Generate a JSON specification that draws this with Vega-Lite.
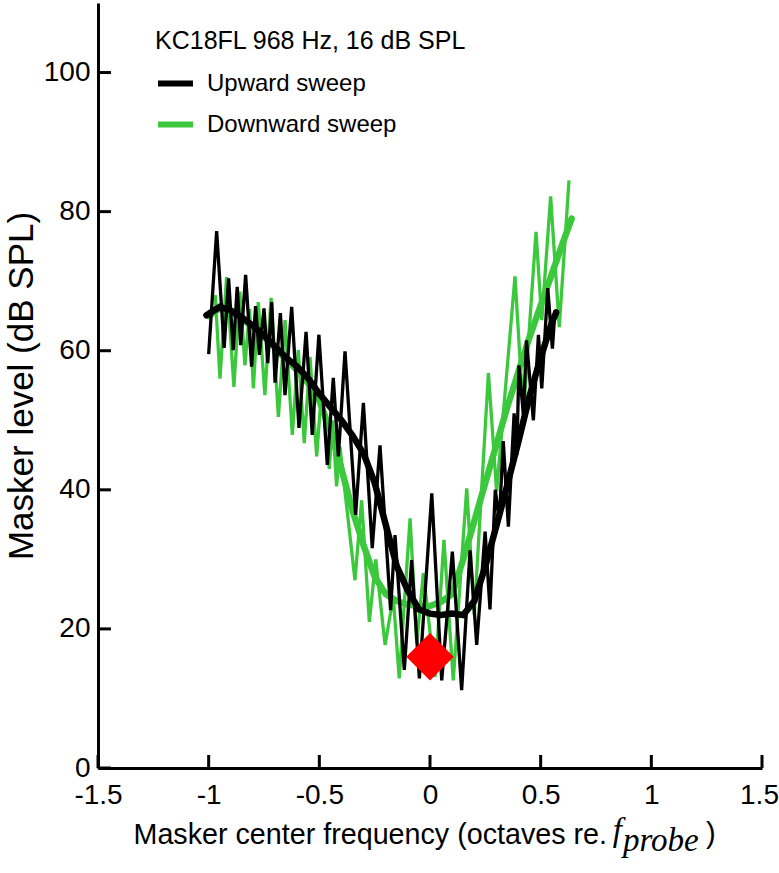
{
  "$schema": "https://vega.github.io/schema/vega-lite/v6.json",
  "width": 664,
  "height": 765,
  "autosize": {"type": "none"},
  "padding": {"left": 98, "top": 3, "right": 17, "bottom": 105},
  "background": "white",
  "config": {
    "view": {"stroke": null},
    "font": "Liberation Sans",
    "axis": {
      "grid": false,
      "domainColor": "black",
      "domainWidth": 3,
      "tickColor": "black",
      "tickWidth": 3,
      "labelFont": "Liberation Sans",
      "labelFontSize": 28,
      "labelColor": "black",
      "labelFlush": false,
      "labelOverlap": false,
      "titleFont": "Liberation Sans",
      "titleFontSize": 28,
      "titleFontWeight": "normal",
      "titleColor": "black"
    }
  },
  "datasets": {
    "up_raw": [
      {"x": -1.0, "y": 59.5, "sweep": "Upward sweep"},
      {"x": -0.964, "y": 77.2, "sweep": "Upward sweep"},
      {"x": -0.93, "y": 60.4, "sweep": "Upward sweep"},
      {"x": -0.91, "y": 70.4, "sweep": "Upward sweep"},
      {"x": -0.889, "y": 60.1, "sweep": "Upward sweep"},
      {"x": -0.871, "y": 69.2, "sweep": "Upward sweep"},
      {"x": -0.855, "y": 60.8, "sweep": "Upward sweep"},
      {"x": -0.833, "y": 70.9, "sweep": "Upward sweep"},
      {"x": -0.806, "y": 57.7, "sweep": "Upward sweep"},
      {"x": -0.788, "y": 66.4, "sweep": "Upward sweep"},
      {"x": -0.771, "y": 59.4, "sweep": "Upward sweep"},
      {"x": -0.75, "y": 66.1, "sweep": "Upward sweep"},
      {"x": -0.733, "y": 58.2, "sweep": "Upward sweep"},
      {"x": -0.715, "y": 67.0, "sweep": "Upward sweep"},
      {"x": -0.7, "y": 55.4, "sweep": "Upward sweep"},
      {"x": -0.676, "y": 65.4, "sweep": "Upward sweep"},
      {"x": -0.655, "y": 53.6, "sweep": "Upward sweep"},
      {"x": -0.625, "y": 66.3, "sweep": "Upward sweep"},
      {"x": -0.592, "y": 48.9, "sweep": "Upward sweep"},
      {"x": -0.56, "y": 62.7, "sweep": "Upward sweep"},
      {"x": -0.532, "y": 47.9, "sweep": "Upward sweep"},
      {"x": -0.502, "y": 62.3, "sweep": "Upward sweep"},
      {"x": -0.464, "y": 43.6, "sweep": "Upward sweep"},
      {"x": -0.437, "y": 56.1, "sweep": "Upward sweep"},
      {"x": -0.414, "y": 44.8, "sweep": "Upward sweep"},
      {"x": -0.384, "y": 59.9, "sweep": "Upward sweep"},
      {"x": -0.336, "y": 36.4, "sweep": "Upward sweep"},
      {"x": -0.301, "y": 52.5, "sweep": "Upward sweep"},
      {"x": -0.261, "y": 31.6, "sweep": "Upward sweep"},
      {"x": -0.226, "y": 46.4, "sweep": "Upward sweep"},
      {"x": -0.178, "y": 22.7, "sweep": "Upward sweep"},
      {"x": -0.158, "y": 33.5, "sweep": "Upward sweep"},
      {"x": -0.116, "y": 14.1, "sweep": "Upward sweep"},
      {"x": -0.083, "y": 29.9, "sweep": "Upward sweep"},
      {"x": -0.048, "y": 12.9, "sweep": "Upward sweep"},
      {"x": 0.008, "y": 39.5, "sweep": "Upward sweep"},
      {"x": 0.053, "y": 12.6, "sweep": "Upward sweep"},
      {"x": 0.101, "y": 31.1, "sweep": "Upward sweep"},
      {"x": 0.143, "y": 11.2, "sweep": "Upward sweep"},
      {"x": 0.181, "y": 31.3, "sweep": "Upward sweep"},
      {"x": 0.211, "y": 17.7, "sweep": "Upward sweep"},
      {"x": 0.249, "y": 34.0, "sweep": "Upward sweep"},
      {"x": 0.271, "y": 22.8, "sweep": "Upward sweep"},
      {"x": 0.295, "y": 40.0, "sweep": "Upward sweep"},
      {"x": 0.313, "y": 35.5, "sweep": "Upward sweep"},
      {"x": 0.331, "y": 47.0, "sweep": "Upward sweep"},
      {"x": 0.354, "y": 34.7, "sweep": "Upward sweep"},
      {"x": 0.38, "y": 51.0, "sweep": "Upward sweep"},
      {"x": 0.392, "y": 45.0, "sweep": "Upward sweep"},
      {"x": 0.402, "y": 57.9, "sweep": "Upward sweep"},
      {"x": 0.422, "y": 50.8, "sweep": "Upward sweep"},
      {"x": 0.436, "y": 61.5, "sweep": "Upward sweep"},
      {"x": 0.467, "y": 50.0, "sweep": "Upward sweep"},
      {"x": 0.49, "y": 62.3, "sweep": "Upward sweep"},
      {"x": 0.505, "y": 54.6, "sweep": "Upward sweep"},
      {"x": 0.532, "y": 69.0, "sweep": "Upward sweep"},
      {"x": 0.553, "y": 60.3, "sweep": "Upward sweep"},
      {"x": 0.565, "y": 65.8, "sweep": "Upward sweep"}
    ],
    "down_raw": [
      {"x": -0.97, "y": 68.0, "sweep": "Downward sweep"},
      {"x": -0.949, "y": 56.0, "sweep": "Downward sweep"},
      {"x": -0.919, "y": 70.6, "sweep": "Downward sweep"},
      {"x": -0.886, "y": 54.8, "sweep": "Downward sweep"},
      {"x": -0.859, "y": 68.5, "sweep": "Downward sweep"},
      {"x": -0.836, "y": 57.9, "sweep": "Downward sweep"},
      {"x": -0.815, "y": 66.0, "sweep": "Downward sweep"},
      {"x": -0.798, "y": 54.6, "sweep": "Downward sweep"},
      {"x": -0.776, "y": 67.0, "sweep": "Downward sweep"},
      {"x": -0.746, "y": 53.6, "sweep": "Downward sweep"},
      {"x": -0.718, "y": 67.6, "sweep": "Downward sweep"},
      {"x": -0.685, "y": 50.5, "sweep": "Downward sweep"},
      {"x": -0.655, "y": 64.4, "sweep": "Downward sweep"},
      {"x": -0.622, "y": 47.9, "sweep": "Downward sweep"},
      {"x": -0.595, "y": 60.1, "sweep": "Downward sweep"},
      {"x": -0.568, "y": 46.7, "sweep": "Downward sweep"},
      {"x": -0.542, "y": 59.1, "sweep": "Downward sweep"},
      {"x": -0.512, "y": 44.8, "sweep": "Downward sweep"},
      {"x": -0.49, "y": 54.3, "sweep": "Downward sweep"},
      {"x": -0.455, "y": 43.0, "sweep": "Downward sweep"},
      {"x": -0.44, "y": 50.0, "sweep": "Downward sweep"},
      {"x": -0.422, "y": 40.5, "sweep": "Downward sweep"},
      {"x": -0.407, "y": 46.2, "sweep": "Downward sweep"},
      {"x": -0.339, "y": 27.0, "sweep": "Downward sweep"},
      {"x": -0.309, "y": 38.5, "sweep": "Downward sweep"},
      {"x": -0.274, "y": 21.0, "sweep": "Downward sweep"},
      {"x": -0.245, "y": 30.0, "sweep": "Downward sweep"},
      {"x": -0.203, "y": 17.7, "sweep": "Downward sweep"},
      {"x": -0.166, "y": 24.6, "sweep": "Downward sweep"},
      {"x": -0.139, "y": 12.9, "sweep": "Downward sweep"},
      {"x": -0.09, "y": 35.9, "sweep": "Downward sweep"},
      {"x": -0.06, "y": 18.0, "sweep": "Downward sweep"},
      {"x": -0.03, "y": 28.0, "sweep": "Downward sweep"},
      {"x": 0.023, "y": 13.1, "sweep": "Downward sweep"},
      {"x": 0.063, "y": 32.8, "sweep": "Downward sweep"},
      {"x": 0.105, "y": 12.6, "sweep": "Downward sweep"},
      {"x": 0.166, "y": 40.2, "sweep": "Downward sweep"},
      {"x": 0.2, "y": 22.0, "sweep": "Downward sweep"},
      {"x": 0.264, "y": 56.8, "sweep": "Downward sweep"},
      {"x": 0.301, "y": 39.7, "sweep": "Downward sweep"},
      {"x": 0.384, "y": 70.7, "sweep": "Downward sweep"},
      {"x": 0.422, "y": 50.8, "sweep": "Downward sweep"},
      {"x": 0.479, "y": 77.1, "sweep": "Downward sweep"},
      {"x": 0.505, "y": 64.4, "sweep": "Downward sweep"},
      {"x": 0.545, "y": 82.2, "sweep": "Downward sweep"},
      {"x": 0.584, "y": 63.4, "sweep": "Downward sweep"},
      {"x": 0.628, "y": 84.5, "sweep": "Downward sweep"}
    ],
    "up_fit": [
      {"x": -1.01, "y": 65.1, "sweep": "Upward sweep"},
      {"x": -0.95, "y": 66.3, "sweep": "Upward sweep"},
      {"x": -0.9, "y": 65.8, "sweep": "Upward sweep"},
      {"x": -0.85, "y": 64.8, "sweep": "Upward sweep"},
      {"x": -0.8, "y": 63.6, "sweep": "Upward sweep"},
      {"x": -0.75, "y": 62.2, "sweep": "Upward sweep"},
      {"x": -0.7, "y": 60.6, "sweep": "Upward sweep"},
      {"x": -0.65, "y": 59.0, "sweep": "Upward sweep"},
      {"x": -0.6, "y": 57.7, "sweep": "Upward sweep"},
      {"x": -0.55, "y": 56.0, "sweep": "Upward sweep"},
      {"x": -0.5, "y": 53.8, "sweep": "Upward sweep"},
      {"x": -0.45, "y": 51.9, "sweep": "Upward sweep"},
      {"x": -0.4, "y": 50.0, "sweep": "Upward sweep"},
      {"x": -0.35, "y": 47.8, "sweep": "Upward sweep"},
      {"x": -0.3, "y": 45.2, "sweep": "Upward sweep"},
      {"x": -0.25, "y": 41.0, "sweep": "Upward sweep"},
      {"x": -0.2, "y": 35.0, "sweep": "Upward sweep"},
      {"x": -0.15, "y": 29.0, "sweep": "Upward sweep"},
      {"x": -0.1, "y": 25.5, "sweep": "Upward sweep"},
      {"x": -0.05, "y": 22.8, "sweep": "Upward sweep"},
      {"x": 0.0, "y": 22.2, "sweep": "Upward sweep"},
      {"x": 0.05, "y": 22.0, "sweep": "Upward sweep"},
      {"x": 0.1, "y": 22.2, "sweep": "Upward sweep"},
      {"x": 0.15, "y": 22.0, "sweep": "Upward sweep"},
      {"x": 0.2, "y": 24.0, "sweep": "Upward sweep"},
      {"x": 0.25, "y": 29.0, "sweep": "Upward sweep"},
      {"x": 0.3, "y": 34.8, "sweep": "Upward sweep"},
      {"x": 0.35, "y": 40.8, "sweep": "Upward sweep"},
      {"x": 0.4, "y": 47.0, "sweep": "Upward sweep"},
      {"x": 0.45, "y": 53.5, "sweep": "Upward sweep"},
      {"x": 0.5, "y": 59.0, "sweep": "Upward sweep"},
      {"x": 0.55, "y": 64.0, "sweep": "Upward sweep"},
      {"x": 0.57, "y": 65.5, "sweep": "Upward sweep"}
    ],
    "down_fit": [
      {"x": -1.0, "y": 65.0, "sweep": "Downward sweep"},
      {"x": -0.95, "y": 66.1, "sweep": "Downward sweep"},
      {"x": -0.9, "y": 65.6, "sweep": "Downward sweep"},
      {"x": -0.85, "y": 64.6, "sweep": "Downward sweep"},
      {"x": -0.8, "y": 63.4, "sweep": "Downward sweep"},
      {"x": -0.75, "y": 62.0, "sweep": "Downward sweep"},
      {"x": -0.7, "y": 60.4, "sweep": "Downward sweep"},
      {"x": -0.65, "y": 58.7, "sweep": "Downward sweep"},
      {"x": -0.6, "y": 57.2, "sweep": "Downward sweep"},
      {"x": -0.55, "y": 55.3, "sweep": "Downward sweep"},
      {"x": -0.5, "y": 52.8, "sweep": "Downward sweep"},
      {"x": -0.45, "y": 48.5, "sweep": "Downward sweep"},
      {"x": -0.4, "y": 43.0, "sweep": "Downward sweep"},
      {"x": -0.35, "y": 37.0, "sweep": "Downward sweep"},
      {"x": -0.3, "y": 32.0, "sweep": "Downward sweep"},
      {"x": -0.25, "y": 27.5, "sweep": "Downward sweep"},
      {"x": -0.2, "y": 25.0, "sweep": "Downward sweep"},
      {"x": -0.15, "y": 24.0, "sweep": "Downward sweep"},
      {"x": -0.1, "y": 23.5, "sweep": "Downward sweep"},
      {"x": -0.05, "y": 23.3, "sweep": "Downward sweep"},
      {"x": 0.0, "y": 23.3, "sweep": "Downward sweep"},
      {"x": 0.05, "y": 23.9, "sweep": "Downward sweep"},
      {"x": 0.1, "y": 25.0, "sweep": "Downward sweep"},
      {"x": 0.15, "y": 30.0, "sweep": "Downward sweep"},
      {"x": 0.2, "y": 35.5, "sweep": "Downward sweep"},
      {"x": 0.25, "y": 41.0, "sweep": "Downward sweep"},
      {"x": 0.3, "y": 46.5, "sweep": "Downward sweep"},
      {"x": 0.35, "y": 52.0, "sweep": "Downward sweep"},
      {"x": 0.4, "y": 57.0, "sweep": "Downward sweep"},
      {"x": 0.45, "y": 62.0, "sweep": "Downward sweep"},
      {"x": 0.5, "y": 66.5, "sweep": "Downward sweep"},
      {"x": 0.55, "y": 71.0, "sweep": "Downward sweep"},
      {"x": 0.6, "y": 75.5, "sweep": "Downward sweep"},
      {"x": 0.64, "y": 79.0, "sweep": "Downward sweep"}
    ],
    "probe": [
      {"x": 0.0, "y": 16.0}
    ],
    "xticks": [
      {"v": -1.5}, {"v": -1}, {"v": -0.5}, {"v": 0}, {"v": 0.5}, {"v": 1}, {"v": 1.5}
    ],
    "yticks": [
      {"v": 0}, {"v": 20}, {"v": 40}, {"v": 60}, {"v": 80}, {"v": 100}
    ]
  },
  "layer": [
    {
      "data": {"name": "down_raw"},
      "mark": {"type": "line", "strokeWidth": 3.3, "strokeJoin": "miter", "strokeMiterLimit": 4},
      "encoding": {
        "x": {
          "field": "x",
          "type": "quantitative",
          "scale": {"domain": [-1.5, 1.5], "nice": false, "zero": false},
          "axis": {
            "orient": "bottom",
            "values": [-1.5, -1, -0.5, 0, 0.5, 1, 1.5],
            "labelExpr": "'' + datum.value",
            "labelOffset": {"condition": {"test": "datum.value == 1.5", "value": -3}, "value": 0},
            "ticks": false,
            "tickSize": 0,
            "labelPadding": 13,
            "title": "Masker center frequency (octaves re.",
            "titleFontSize": 28.7,
            "titleAlign": "left",
            "titleAnchor": "start",
            "titleX": 35,
            "titleY": 75,
            "titleBaseline": "alphabetic"
          }
        },
        "y": {
          "field": "y",
          "type": "quantitative",
          "scale": {"domain": [0, 110], "nice": false, "zero": false},
          "axis": {
            "orient": "left",
            "values": [0, 20, 40, 60, 80, 100],
            "ticks": false,
            "tickSize": 0,
            "labelPadding": 8,
            "title": "Masker level (dB SPL)",
            "titleFontSize": 35,
            "titleX": -66,
            "titleBaseline": "alphabetic"
          }
        },
        "color": {
          "field": "sweep",
          "type": "nominal",
          "scale": {"domain": ["Upward sweep", "Downward sweep"], "range": ["#000000", "#3cc83c"]},
          "legend": {
            "title": "KC18FL 968 Hz, 16 dB SPL",
            "orient": "none",
            "legendX": 57,
            "legendY": 26,
            "padding": 0,
            "titleFont": "Liberation Sans",
            "titleFontSize": 25,
            "titleFontWeight": "normal",
            "titleColor": "black",
            "titlePadding": 9,
            "titleLimit": 1000,
            "labelFont": "Liberation Sans",
            "labelFontSize": 24,
            "labelColor": "black",
            "labelOffset": 11,
            "labelLimit": 1000,
            "symbolType": "stroke",
            "symbolSize": 1225,
            "symbolStrokeWidth": 6,
            "rowPadding": 8
          }
        }
      }
    },
    {
      "data": {"name": "down_fit"},
      "mark": {"type": "line", "strokeWidth": 6.5, "strokeCap": "round"},
      "encoding": {
        "x": {"field": "x", "type": "quantitative"},
        "y": {"field": "y", "type": "quantitative"},
        "color": {"field": "sweep", "type": "nominal"}
      }
    },
    {
      "data": {"name": "up_raw"},
      "mark": {"type": "line", "strokeWidth": 3.3, "strokeJoin": "miter", "strokeMiterLimit": 4},
      "encoding": {
        "x": {"field": "x", "type": "quantitative"},
        "y": {"field": "y", "type": "quantitative"},
        "color": {"field": "sweep", "type": "nominal"}
      }
    },
    {
      "data": {"name": "up_fit"},
      "mark": {"type": "line", "strokeWidth": 6.5, "strokeCap": "round"},
      "encoding": {
        "x": {"field": "x", "type": "quantitative"},
        "y": {"field": "y", "type": "quantitative"},
        "color": {"field": "sweep", "type": "nominal"}
      }
    },
    {
      "data": {"name": "probe"},
      "mark": {"type": "point", "shape": "diamond", "filled": true, "opacity": 1, "size": 2250, "color": "#ff0000"},
      "encoding": {
        "x": {"field": "x", "type": "quantitative"},
        "y": {"field": "y", "type": "quantitative"}
      }
    },
    {
      "data": {"name": "xticks"},
      "mark": {"type": "rule", "strokeWidth": 3, "color": "black"},
      "encoding": {
        "x": {"field": "v", "type": "quantitative"},
        "y": {"datum": 0, "type": "quantitative"},
        "y2": {"datum": 1.87}
      }
    },
    {
      "data": {"name": "yticks"},
      "mark": {"type": "rule", "strokeWidth": 3, "color": "black"},
      "encoding": {
        "y": {"field": "v", "type": "quantitative"},
        "x": {"datum": -1.5, "type": "quantitative"},
        "x2": {"datum": -1.4415}
      }
    },
    {
      "data": {"values": [{"t": "f"}]},
      "mark": {"type": "text", "font": "Liberation Serif", "fontStyle": "italic", "fontSize": 33, "align": "left", "baseline": "alphabetic", "color": "black"},
      "encoding": {
        "text": {"field": "t"},
        "x": {"datum": 0.826, "type": "quantitative"},
        "y": {"datum": -10.5, "type": "quantitative"}
      }
    },
    {
      "data": {"values": [{"t": "probe"}]},
      "mark": {"type": "text", "font": "Liberation Serif", "fontStyle": "italic", "fontSize": 33, "align": "left", "baseline": "alphabetic", "color": "black"},
      "encoding": {
        "text": {"field": "t"},
        "x": {"datum": 0.872, "type": "quantitative"},
        "y": {"datum": -11.9, "type": "quantitative"}
      }
    },
    {
      "data": {"values": [{"t": ")"}]},
      "mark": {"type": "text", "font": "Liberation Sans", "fontSize": 29, "align": "left", "baseline": "alphabetic", "color": "black"},
      "encoding": {
        "text": {"field": "t"},
        "x": {"datum": 1.247, "type": "quantitative"},
        "y": {"datum": -10.8, "type": "quantitative"}
      }
    }
  ]
}
